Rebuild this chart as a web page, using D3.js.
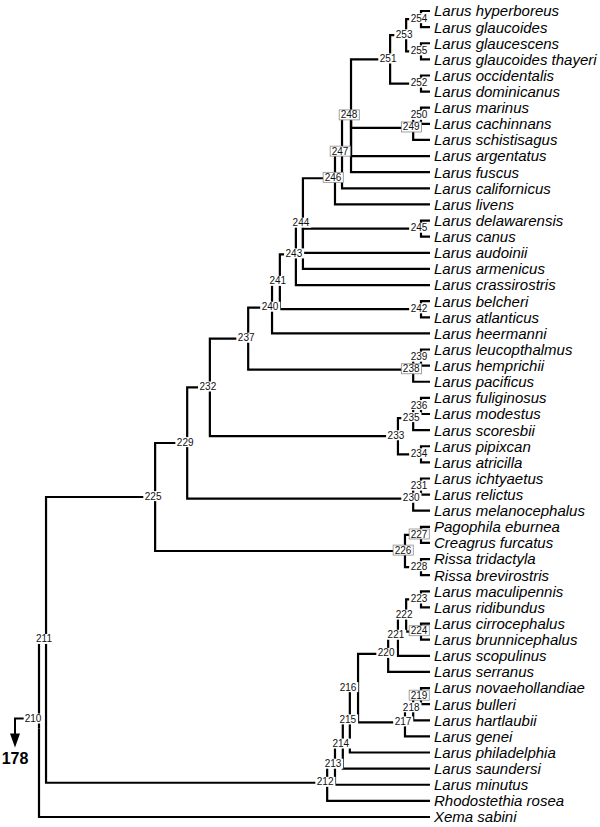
<!DOCTYPE html>
<html>
<head>
<meta charset="utf-8">
<script src="https://cdn.jsdelivr.net/npm/d3@7"></script>
<style>
  html, body { margin: 0; padding: 0; background: #fff; }
  svg { display: block; }
</style>
</head>
<body>
<svg id="chart" width="600" height="827"></svg>
<script>
// ---------------- DATA ----------------
const leafNames = [
  "Larus hyperboreus", "Larus glaucoides", "Larus glaucescens", "Larus glaucoides thayeri",
  "Larus occidentalis", "Larus dominicanus", "Larus marinus", "Larus cachinnans",
  "Larus schistisagus", "Larus argentatus", "Larus fuscus", "Larus californicus",
  "Larus livens", "Larus delawarensis", "Larus canus", "Larus audoinii",
  "Larus armenicus", "Larus crassirostris", "Larus belcheri", "Larus atlanticus",
  "Larus heermanni", "Larus leucopthalmus", "Larus hemprichii", "Larus pacificus",
  "Larus fuliginosus", "Larus modestus", "Larus scoresbii", "Larus pipixcan",
  "Larus atricilla", "Larus ichtyaetus", "Larus relictus", "Larus melanocephalus",
  "Pagophila eburnea", "Creagrus furcatus", "Rissa tridactyla", "Rissa brevirostris",
  "Larus maculipennis", "Larus ridibundus", "Larus cirrocephalus", "Larus brunnicephalus",
  "Larus scopulinus", "Larus serranus", "Larus novaehollandiae", "Larus bulleri",
  "Larus hartlaubii", "Larus genei", "Larus philadelphia", "Larus saundersi",
  "Larus minutus", "Rhodostethia rosea", "Xema sabini"
];

// internal nodes: id, relative depth (root = 0, tips = 100), children (numbers = nodes, strings = tips)
const nodeIds = [210, 211, 225, 229, 232, 237, 240, 241, 243, 244, 246, 247, 248, 251, 253, 254, 255, 252,
  249, 250, 245, 242, 238, 239, 233, 235, 236, 234, 230, 231, 226, 227, 228,
  212, 213, 214, 215, 216, 220, 221, 222, 223, 224, 217, 218, 219];
const nodeDepths = [0, 1.8, 29.7, 37.9, 43.7, 53.5, 59.6, 61.6, 65.7, 67.5, 75.7, 77.5, 79.8, 89.8, 93.9, 97.7, 97.7, 97.7,
  95.7, 97.7, 97.7, 97.7, 95.7, 97.7, 91.8, 95.7, 97.7, 97.7, 95.7, 97.7, 93.6, 97.7, 97.7,
  73.7, 75.7, 77.7, 79.5, 81.6, 89.3, 91.8, 93.9, 97.7, 97.7, 93.6, 95.7, 97.7];
const nodeChildren = [
  [211, "Xema sabini"],
  [225, 212],
  [229, 226],
  [232, 230],
  [237, 233],
  [240, 238],
  [241, "Larus heermanni"],
  [243, 242],
  [244, "Larus crassirostris"],
  [246, 245, "Larus audoinii", "Larus armenicus"],
  [247, "Larus livens"],
  [248, "Larus californicus"],
  [251, 249, "Larus argentatus", "Larus fuscus"],
  [253, 252],
  [254, 255],
  ["Larus hyperboreus", "Larus glaucoides"],
  ["Larus glaucescens", "Larus glaucoides thayeri"],
  ["Larus occidentalis", "Larus dominicanus"],
  [250, "Larus schistisagus"],
  ["Larus marinus", "Larus cachinnans"],
  ["Larus delawarensis", "Larus canus"],
  ["Larus belcheri", "Larus atlanticus"],
  [239, "Larus pacificus"],
  ["Larus leucopthalmus", "Larus hemprichii"],
  [235, 234],
  [236, "Larus scoresbii"],
  ["Larus fuliginosus", "Larus modestus"],
  ["Larus pipixcan", "Larus atricilla"],
  [231, "Larus melanocephalus"],
  ["Larus ichtyaetus", "Larus relictus"],
  [227, 228],
  ["Pagophila eburnea", "Creagrus furcatus"],
  ["Rissa tridactyla", "Rissa brevirostris"],
  [213, "Rhodostethia rosea"],
  [214, "Larus minutus"],
  [215, "Larus saundersi"],
  [216, "Larus philadelphia"],
  [220, 217],
  [221, "Larus serranus"],
  [222, "Larus scopulinus"],
  [223, 224],
  ["Larus maculipennis", "Larus ridibundus"],
  ["Larus cirrocephalus", "Larus brunnicephalus"],
  [218, "Larus genei"],
  [219, "Larus hartlaubii"],
  ["Larus novaehollandiae", "Larus bulleri"]
];
const boxedNodes = [248, 249, 247, 246, 238, 227, 226, 224, 219];
const outgroupLabel = "178";

// ---------------- BUILD ----------------
const info = new Map();
nodeIds.forEach((id, i) => info.set(id, { depth: nodeDepths[i], kids: nodeChildren[i] }));
function build(key) {
  if (typeof key === "number") {
    const n = info.get(key);
    return { name: String(key), id: key, depth: n.depth, children: n.kids.map(build) };
  }
  return { name: key, depth: 100, tip: true };
}
const root = d3.hierarchy(build(nodeIds[0]));

const x = d3.scaleLinear().domain([0, 100]).range([39, 430]);
const y = d3.scalePoint().domain(leafNames).range([11, 817]);

root.eachAfter(d => {
  d.px = x(d.data.depth);
  if (d.children) {
    d.py = (d.children[0].py + d.children[d.children.length - 1].py) / 2;
  } else {
    d.py = y(d.data.name);
  }
});

const svg = d3.select("#chart");
const FONT = "'Liberation Sans', Arial, Helvetica, sans-serif";

// ---------------- BRANCHES ----------------
const links = root.links();
svg.append("g")
  .attr("fill", "none")
  .attr("stroke", "#000")
  .attr("stroke-width", 2.2)
  .attr("stroke-linejoin", "miter")
  .selectAll("path")
  .data(links)
  .join("path")
  .attr("d", l => `M${l.source.px},${l.source.py}V${l.target.py}H${l.target.px}`);

// ---------------- TIP LABELS ----------------
svg.append("g")
  .selectAll("text")
  .data(root.leaves())
  .join("text")
  .attr("x", d => d.px + 4)
  .attr("y", d => d.py)
  .attr("dy", "0.36em")
  .attr("font-family", FONT)
  .attr("font-style", "italic")
  .attr("font-size", 15)
  .attr("fill", "#000")
  .text(d => d.data.name);

// ---------------- NODE LABELS ----------------
const internal = root.descendants().filter(d => d.children);
const lg = svg.append("g");
internal.forEach(d => {
  const id = d.data.id;
  let cx = d.px - 2, cy = d.py - 1, anchor = "middle";
  if (id === 210) { cx = d.px - 6; cy = d.py - 10; }
  if (id === 216) { cx = d.px - 10; }
  const g = lg.append("g");
  const t = g.append("text")
    .attr("x", cx)
    .attr("y", cy)
    .attr("dy", "0.36em")
    .attr("text-anchor", anchor)
    .attr("font-family", FONT)
    .attr("font-size", 10)
    .attr("fill", "#111")
    .text(d.data.name);
  const bb = t.node().getBBox();
  const boxed = boxedNodes.includes(id);
  g.insert("rect", "text")
    .attr("x", bb.x - 1.5)
    .attr("y", bb.y + 0.5)
    .attr("width", bb.width + 3)
    .attr("height", bb.height - 1)
    .attr("fill", "#fff")
    .attr("stroke", boxed ? "#8c8c8c" : "none")
    .attr("stroke-width", 0.8);
  if (id === 210) d.labelBox = bb;
});

// ---------------- OUTGROUP ARROW ----------------
const r = root;
const bb210 = r.labelBox;
const ax = 15;
const ay = bb210.y + bb210.height / 2;
svg.append("path")
  .attr("d", `M${bb210.x - 1},${ay}H${ax}V${ay + 16}`)
  .attr("fill", "none")
  .attr("stroke", "#000")
  .attr("stroke-width", 2);
svg.append("path")
  .attr("d", `M${ax - 5},${ay + 15}L${ax + 5},${ay + 15}L${ax},${ay + 29}Z`)
  .attr("fill", "#000");
svg.append("text")
  .attr("x", ax)
  .attr("y", ay + 45)
  .attr("text-anchor", "middle")
  .attr("font-family", FONT)
  .attr("font-weight", "bold")
  .attr("font-size", 16)
  .attr("fill", "#000")
  .text(outgroupLabel);
</script>
</body>
</html>
